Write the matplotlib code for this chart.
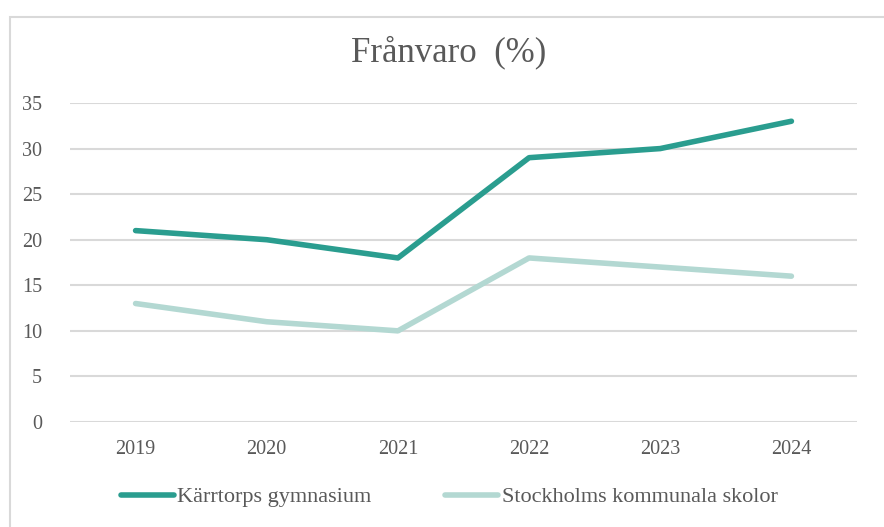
import matplotlib.pyplot as plt
from matplotlib.patches import Rectangle

# data
years = ['2019', '2020', '2021', '2022', '2023', '2024']
karrtorp = [21, 20, 18, 29, 30, 33]
stockholm = [13, 11, 10, 18, 17, 16]

dark = '#2a9d8f'
light = '#b3d8d2'
txt = '#595959'

plt.rcParams['font.family'] = ['Liberation Serif', 'DejaVu Serif']

fig = plt.figure(figsize=(8.84, 5.27), dpi=100)
ax = fig.add_axes([70 / 884, 1 - 422 / 527, 787 / 884, 319 / 527])

x = range(len(years))
ax.plot(x, karrtorp, color=dark, lw=4, solid_capstyle='round', solid_joinstyle='round',
        label='Kärrtorps gymnasium', zorder=3)
ax.plot(x, stockholm, color=light, lw=4, solid_capstyle='round', solid_joinstyle='round',
        label='Stockholms kommunala skolor', zorder=3)

ax.set_xlim(-0.5, len(years) - 0.5)
ax.set_ylim(0, 35)
ax.set_yticks(range(0, 36, 5))
ax.set_xticks(list(x))
ax.set_xticklabels(years)
ax.grid(axis='y', color='#d9d9d9', lw=1.5)
ax.set_axisbelow(True)
for s in ax.spines.values():
    s.set_visible(False)
ax.tick_params(length=0, colors=txt, labelsize=14.5)
ax.tick_params(axis='x', pad=13)
ax.tick_params(axis='y', pad=20)

fig.text(0.507, 1 - 52 / 527, 'Frånvaro  (%)', ha='center', va='center', fontsize=25, color=txt)

leg = fig.legend(loc='center', bbox_to_anchor=(0.508, 1 - 497 / 527), ncol=2, frameon=False,
                 fontsize=16, handlelength=2.4, handletextpad=0.15, columnspacing=3.3)
for t in leg.get_texts():
    t.set_color(txt)

fig.add_artist(Rectangle((10 / 884, -0.01), 1.0, 1 - 17 / 527 + 0.01, transform=fig.transFigure,
                         fill=False, edgecolor='#d9d9d9', lw=1.5))

fig.savefig('out.png', dpi=100)
